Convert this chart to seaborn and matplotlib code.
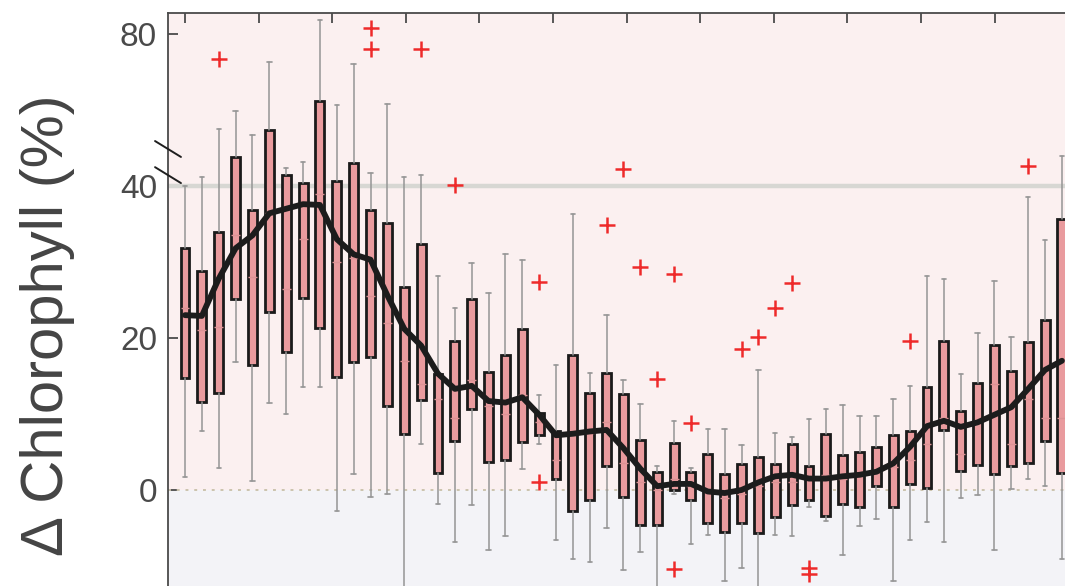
import numpy as np
import matplotlib
matplotlib.use("Agg")
import matplotlib.pyplot as plt
import seaborn as sns

# ---------------- data (weekly boxes, values in %) ----------------
week = list(range(53))
whislo = [1.7, 7.8, 2.9, 16.9, 1.2, 11.4, 10.0, 13.5, 13.5, -2.8,
          2.1, -0.9, -0.5, -16.0, 6.0, -1.8, -6.8, -2.0, -7.9, -6.1,
          2.8, 6.0, -6.6, -9.1, -9.5, -5.0, -10.5, -8.2, -14.0, -0.5,
          -7.1, -5.9, -12.0, -10.3, -15.0, -5.9, -6.1, -2.3, -4.1, -8.6,
          -4.8, -3.8, -12.0, -6.6, -4.2, -6.8, -1.0, -0.6, -7.9, 0.1,
          1.5, 0.5, -9.1]
q1 = [14.7, 11.6, 12.7, 25.1, 16.5, 23.4, 18.2, 25.2, 21.3, 14.8,
      16.9, 17.5, 11.0, 7.3, 11.8, 2.3, 6.5, 10.7, 3.7, 4.0,
      6.3, 7.2, 1.5, -2.7, -1.3, 3.2, -0.9, -4.6, -4.6, -0.05,
      -1.3, -4.4, -5.5, -4.4, -5.6, -3.5, -2.0, -1.3, -3.4, -1.8,
      -2.3, 0.5, -2.2, 0.8, 0.3, 7.9, 2.5, 3.3, 2.1, 3.1,
      3.5, 6.5, 2.3]
median = [24.0, 21.0, 21.5, 33.5, 28.0, 36.5, 26.5, 33.0, 39.0, 30.0,
          30.5, 25.5, 22.0, 17.0, 14.0, 12.0, 9.5, 14.5, 11.0, 10.0,
          12.5, 9.0, 4.0, 7.5, 7.5, 9.0, 3.5, 1.0, 0.0, 1.5,
          0.5, 0.0, -1.0, -0.5, 0.5, 1.0, 1.0, 1.5, 2.0, 1.5,
          2.0, 2.5, 3.0, 3.9, 6.0, 9.5, 4.7, 9.1, 13.9, 6.0,
          12.0, 9.5, 9.5]
q3 = [31.8, 28.8, 33.9, 47.7, 36.8, 54.7, 42.75, 40.8, 62.4, 41.3,
      46.0, 36.8, 35.1, 26.7, 32.3, 15.2, 19.6, 25.1, 15.5, 17.7,
      21.2, 10.1, 7.8, 17.7, 12.7, 15.4, 12.6, 6.6, 2.4, 6.2,
      2.4, 4.7, 2.1, 3.4, 4.4, 3.4, 6.1, 3.2, 7.3, 4.6,
      5.0, 5.6, 7.2, 7.7, 13.6, 19.6, 10.4, 14.1, 19.1, 15.6,
      19.5, 22.3, 35.6]
whishi = [40.1, 42.3, 55.0, 59.7, 53.4, 72.5, 44.7, 46.2, 83.6, 61.2,
          72.0, 43.4, 61.6, 42.3, 43.0, 28.1, 23.9, 29.8, 25.9, 31.0,
          30.2, 12.5, 16.4, 36.3, 15.4, 23.0, 14.5, 11.3, 3.1, 9.1,
          2.9, 8.0, 8.0, 5.9, 15.8, 7.5, 7.0, 9.4, 10.7, 11.2,
          9.7, 9.7, 12.0, 13.7, 28.2, 27.8, 15.2, 20.7, 27.5, 20.1,
          38.6, 32.9, 48.0]
outliers = {2: [73.4], 11: [76.0, 81.5], 14: [76.1], 16: [40.3],
            21: [27.3, 1.0], 25: [34.9], 26: [44.4], 27: [29.4],
            28: [14.6], 29: [28.4, -10.4], 30: [8.8], 33: [18.5],
            34: [20.1], 35: [24.0], 36: [27.2], 37: [-10.3, -11.0],
            43: [19.6], 50: [45.3]}
smooth = [23.0, 22.9, 27.8, 31.8, 33.5, 36.4, 37.0, 37.6, 37.5, 33.0,
          31.0, 30.3, 25.6, 21.2, 19.0, 15.3, 13.3, 13.7, 11.7, 11.5,
          12.2, 9.9, 7.2, 7.4, 7.7, 7.9, 5.5, 2.8, 0.5, 0.8,
          0.8, -0.2, -0.4, 0.0, 1.0, 1.8, 2.0, 1.5, 1.5, 1.8,
          2.0, 2.4, 3.5, 5.7, 8.4, 9.1, 8.3, 8.9, 9.9, 10.9,
          13.3, 15.8, 17.0]
yticks = [0, 20, 40, 80]
ylabel = "Δ Chlorophyll (%)"

# ---------------- style ----------------
sns.set_theme(style="ticks")
plt.rcParams["font.family"] = ["Liberation Sans", "DejaVu Sans"]

days = np.array(week) * 7.0

BREAK = 40.0
RATIO = 0.5


def fwd(y):
    y = np.asarray(y, dtype=float)
    return np.where(y <= BREAK, y, BREAK + (y - BREAK) * RATIO)


def inv(t):
    t = np.asarray(t, dtype=float)
    return np.where(t <= BREAK, t, BREAK + (t - BREAK) / RATIO)


W, H = 1065, 586
fig = plt.figure(figsize=(W / 100, H / 100), dpi=100, facecolor="white")
ax = fig.add_axes([168 / W, 1 - 650 / H, 932 / W, 637 / H])
ax.set_yscale("function", functions=(fwd, inv))
ax.set_ylim(-21.05, 85.5)
ax.set_xlim(-7.06, 379.8)

ax.set_facecolor("#f3f3f7")
ax.axhspan(0, 100, color="#fbf0f0", zorder=0, lw=0)
ax.axhline(BREAK, color="#d7d7d3", lw=3.2, zorder=1)
ax.axhline(0, color="#cbc3ad", lw=1.4, ls=(0, (1.5, 3)), zorder=1)

stats = []
for i in week:
    stats.append(dict(med=median[i], q1=q1[i], q3=q3[i],
                      whislo=whislo[i], whishi=whishi[i],
                      fliers=np.array(outliers.get(i, []))))

ax.bxp(stats, positions=days, widths=3.7, patch_artist=True,
       showfliers=True, manage_ticks=False,
       boxprops=dict(facecolor="#e99b9e", edgecolor="#1a1a1a", linewidth=2.0),
       whiskerprops=dict(color="#959595", linewidth=1.1, linestyle="-"),
       capprops=dict(color="#959595", linewidth=1.2),
       medianprops=dict(color="#dc9395", linewidth=1.0),
       flierprops=dict(marker="+", markeredgecolor="#ee2a2a",
                       markersize=11, markeredgewidth=1.8, linestyle="none"))

sns.lineplot(x=days, y=smooth, ax=ax, color="#1c1c1c", linewidth=4.2,
             zorder=6, legend=False)

# ticks and spines
ax.set_yticks(yticks)
ax.set_yticklabels([str(v) for v in yticks])
ax.yaxis.set_minor_locator(matplotlib.ticker.NullLocator())
ax.set_xticks(np.arange(0, 366, 30.55))
ax.xaxis.tick_top()
ax.tick_params(axis="x", which="both", top=True, bottom=False,
               labeltop=False, labelbottom=False, direction="in",
               length=7, width=1.3, color="#4a4a4a")
ax.tick_params(axis="y", which="both", left=True, right=False,
               direction="in", length=7, width=1.3, color="#4a4a4a",
               labelsize=24, labelcolor="#4a4a4a", pad=8)
for side in ["left", "top"]:
    ax.spines[side].set_color("#4a4a4a")
    ax.spines[side].set_linewidth(1.3)
for side in ["right", "bottom"]:
    ax.spines[side].set_visible(False)
ax.set_xlabel("")
ax.set_ylabel("")
ax.grid(False)

# broken-axis marks
for (y0, y1) in [(0.799, 0.774), (0.758, 0.733)]:
    ax.plot([-0.0139, 0.0139], [y0, y1], transform=ax.transAxes,
            color="#1e1e1e", lw=1.4, clip_on=False, zorder=10)

fig.text(0.045, 0.445, ylabel, rotation=90, fontsize=43, color="#444444",
         ha="center", va="center")

fig.savefig("out.png", dpi=100, facecolor="white")
